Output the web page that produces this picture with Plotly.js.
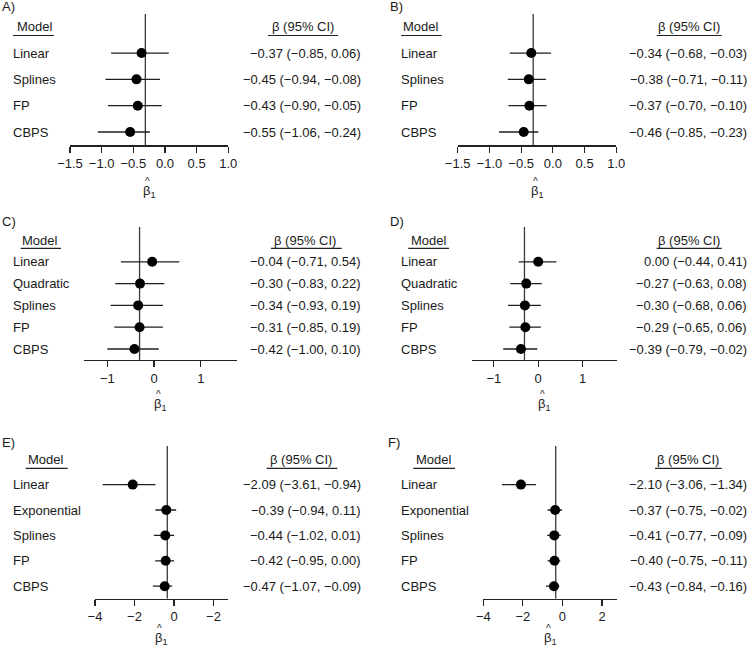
<!DOCTYPE html>
<html>
<head>
<meta charset="utf-8">
<script src="https://cdn.plot.ly/plotly-3.0.1.min.js"></script>
<style>html,body{margin:0;padding:0;background:#fff;}#chart{width:750px;height:653px;}</style>
</head>
<body>
<div id="chart"></div>
<script>
// ---------- DATA ----------
const modelsA = ["Linear", "Splines", "FP", "CBPS"];
const estA = [-0.37, -0.45, -0.43, -0.55];
const lowA = [-0.85, -0.94, -0.90, -1.06];
const highA = [0.06, -0.08, -0.05, -0.24];
const refA = -0.31;

const modelsB = ["Linear", "Splines", "FP", "CBPS"];
const estB = [-0.34, -0.38, -0.37, -0.46];
const lowB = [-0.68, -0.71, -0.70, -0.85];
const highB = [-0.03, -0.11, -0.10, -0.23];
const refB = -0.31;

const modelsC = ["Linear", "Quadratic", "Splines", "FP", "CBPS"];
const estC = [-0.04, -0.30, -0.34, -0.31, -0.42];
const lowC = [-0.71, -0.83, -0.93, -0.85, -1.00];
const highC = [0.54, 0.22, 0.19, 0.19, 0.10];
const refC = -0.31;

const modelsD = ["Linear", "Quadratic", "Splines", "FP", "CBPS"];
const estD = [0.00, -0.27, -0.30, -0.29, -0.39];
const lowD = [-0.44, -0.63, -0.68, -0.65, -0.79];
const highD = [0.41, 0.08, 0.06, 0.06, -0.02];
const refD = -0.31;

const modelsE = ["Linear", "Exponential", "Splines", "FP", "CBPS"];
const estE = [-2.09, -0.39, -0.44, -0.42, -0.47];
const lowE = [-3.61, -0.94, -1.02, -0.95, -1.07];
const highE = [-0.94, 0.11, 0.01, 0.00, -0.09];
const refE = -0.34;

const modelsF = ["Linear", "Exponential", "Splines", "FP", "CBPS"];
const estF = [-2.10, -0.37, -0.41, -0.40, -0.43];
const lowF = [-3.06, -0.75, -0.77, -0.75, -0.84];
const highF = [-1.34, -0.02, -0.09, -0.11, -0.16];
const refF = -0.34;

const tickValsAB = [-1.5, -1.0, -0.5, 0.0, 0.5, 1.0];
const tickTextAB = ["−1.5", "−1.0", "−0.5", "0.0", "0.5", "1.0"];
const tickValsCD = [-1, 0, 1];
const tickTextCD = ["−1", "0", "1"];
const tickValsE = [-4, -2, 0, 2];
const tickTextE = ["−4", "−2", "0", "−2"];
const tickValsF = [-4, -2, 0, 2];
const tickTextF = ["−4", "−2", "0", "2"];

const panelLabels = ["A)", "B)", "C)", "D)", "E)", "F)"];

// ---------- LAYOUT GEOMETRY (pixels) ----------
const W = 750, H = 653;
const px = v => v / W;
const py = v => 1 - v / H;
const FONT = "Liberation Sans, Arial, sans-serif";
const TXT = "#1a1a1a";

const panels = [
  {models: modelsA, est: estA, low: lowA, high: highA, ref: refA, tv: tickValsAB, tt: tickTextAB,
   xl: 70, xr: 228.3, xr0: -1.5, xr1: 1.0, top: 14, axisY: 145.3, r0: 26.7, dr: 26.33,
   labX: 11, valR: 363, modelC: 34.5, modelU: [13, 54], betaC: 303, betaU: [268, 338], uY: 35.5,
   hatY: 190, pl: [0, 6]},
  {models: modelsB, est: estB, low: lowB, high: highB, ref: refB, tv: tickValsAB, tt: tickTextAB,
   xl: 457.7, xr: 616.3, xr0: -1.5, xr1: 1.0, top: 14, axisY: 145.3, r0: 26.7, dr: 26.33,
   labX: 398.7, valR: 749.3, modelC: 421.3, modelU: [401, 441.7], betaC: 689, betaU: [656.7, 721.7], uY: 35.5,
   hatY: 190, pl: [388, 6]},
  {models: modelsC, est: estC, low: lowC, high: highC, ref: refC, tv: tickValsCD, tt: tickTextCD,
   xl: 84, xr: 236.7, xr0: -1.5, xr1: 1.77, top: 227, axisY: 360, r0: 240, dr: 21.8,
   labX: 11, valR: 363, modelC: 40.2, modelU: [20.7, 61], betaC: 305, betaU: [271, 341.7], uY: 248.3,
   hatY: 404, pl: [0, 221]},
  {models: modelsD, est: estD, low: lowD, high: highD, ref: refD, tv: tickValsCD, tt: tickTextCD,
   xl: 471.7, xr: 616.7, xr0: -1.5, xr1: 1.77, top: 227, axisY: 360, r0: 240, dr: 21.8,
   labX: 398.7, valR: 749.3, modelC: 428.7, modelU: [408.3, 449], betaC: 689, betaU: [656.7, 721.7], uY: 248.3,
   hatY: 404, pl: [388, 221]},
  {models: modelsE, est: estE, low: lowE, high: highE, ref: refE, tv: tickValsE, tt: tickTextE,
   xl: 95, xr: 228.3, xr0: -4, xr1: 2.75, top: 446, axisY: 598.5, r0: 459.2, dr: 25.4,
   labX: 11, valR: 363, modelC: 46.3, modelU: [25.7, 67.7], betaC: 301.3, betaU: [266.7, 337.3], uY: 468.3,
   hatY: 637.5, pl: [0, 442]},
  {models: modelsF, est: estF, low: lowF, high: highF, ref: refF, tv: tickValsF, tt: tickTextF,
   xl: 483.3, xr: 616.7, xr0: -4, xr1: 2.74, top: 446, axisY: 598.5, r0: 459.2, dr: 25.4,
   labX: 398.7, valR: 749.3, modelC: 433.8, modelU: [413.3, 455], betaC: 688.3, betaU: [655, 721.7], uY: 468.3,
   hatY: 637.5, pl: [386, 442]}
];

const fmt = v => {
  const s = Math.abs(v).toFixed(2);
  return (v < 0 && s !== "0.00" ? "−" : "") + s;
};

const traces = [];
const annotations = [];
const shapes = [];
const layout = {
  width: W, height: H,
  margin: {l: 0, r: 0, t: 0, b: 0},
  paper_bgcolor: "#fff", plot_bgcolor: "rgba(0,0,0,0)",
  showlegend: false,
  font: {family: FONT, size: 13, color: TXT},
  annotations: annotations,
  shapes: shapes
};

panels.forEach((p, i) => {
  const n = i + 1;
  const xa = "x" + n, ya = "y" + n;
  const xk = "xaxis" + n, yk = "yaxis" + n;
  const rows = p.models.map((_, k) => k + 1);
  const yTop = (p.top - p.r0) / p.dr;
  const yBot = (p.axisY - p.r0) / p.dr;

  layout[xk] = {
    domain: [px(p.xl), px(p.xr)], range: [p.xr0, p.xr1], anchor: ya,
    showline: true, linecolor: "#222", linewidth: 1.2,
    ticks: "outside", ticklen: 6, tickwidth: 1.2, tickcolor: "#222",
    tickvals: p.tv, ticktext: p.tt, tickfont: {family: FONT, size: 13, color: TXT},
    showgrid: false, zeroline: false, fixedrange: true
  };
  layout[yk] = {
    domain: [py(p.axisY), py(p.top)], range: [yBot, yTop], anchor: xa,
    visible: false, showgrid: false, zeroline: false, fixedrange: true
  };

  // reference vertical line
  shapes.push({type: "line", xref: xa, yref: ya + " domain", x0: p.ref, x1: p.ref, y0: 0, y1: 1,
    line: {color: "#3a3a3a", width: 1.3}, layer: "below"});

  traces.push({
    type: "scatter", mode: "markers", xaxis: xa, yaxis: ya,
    x: p.est, y: rows,
    marker: {size: 10, color: "#000", symbol: "circle"},
    error_x: {type: "data", symmetric: false,
      array: p.high.map((h, k) => h - p.est[k]),
      arrayminus: p.est.map((e, k) => e - p.low[k]),
      width: 0, thickness: 1.3, color: "#1e1e1e"},
    hoverinfo: "skip"
  });

  // row labels and value text
  p.models.forEach((m, k) => {
    annotations.push({xref: "paper", yref: ya, x: px(p.labX), y: k + 1, text: m,
      xanchor: "left", yanchor: "middle", showarrow: false, font: {size: 13, color: TXT}});
    annotations.push({xref: "paper", yref: ya, x: px(p.valR), y: k + 1,
      text: fmt(p.est[k]) + " (" + fmt(p.low[k]) + ", " + fmt(p.high[k]) + ")",
      xanchor: "right", yanchor: "middle", showarrow: false, font: {size: 13, color: TXT}});
  });

  // headers
  annotations.push({xref: "paper", yref: ya, x: px(p.modelC), y: 0, text: "Model",
    xanchor: "center", yanchor: "middle", showarrow: false, font: {size: 13, color: TXT}});
  annotations.push({xref: "paper", yref: ya, x: px(p.betaC), y: 0, text: "β (95% CI)",
    xanchor: "center", yanchor: "middle", showarrow: false, font: {size: 13, color: TXT}});
  shapes.push({type: "line", xref: "paper", yref: "paper", x0: px(p.modelU[0]), x1: px(p.modelU[1]),
    y0: py(p.uY), y1: py(p.uY), line: {color: "#222", width: 1.2}});
  shapes.push({type: "line", xref: "paper", yref: "paper", x0: px(p.betaU[0]), x1: px(p.betaU[1]),
    y0: py(p.uY), y1: py(p.uY), line: {color: "#222", width: 1.2}});

  // axis title beta-hat_1: caret line above beta with subscript, one text block
  annotations.push({xref: xa + " domain", yref: "paper", x: 0.5, y: py(p.hatY - 4),
    text: "<span style='font-size:10px'>^</span><span style='font-size:13px'>\u00a0</span><br>" +
          "<span style='font-size:13px'>β<sub>1</sub></span>",
    xanchor: "center", yanchor: "middle", showarrow: false, borderpad: 0,
    font: {size: 8, color: TXT}});

  // panel label
  annotations.push({xref: "paper", yref: "paper", x: px(p.pl[0]), y: py(p.pl[1]), text: panelLabels[i],
    xanchor: "left", yanchor: "middle", showarrow: false, font: {size: 13, color: TXT}});
});

Plotly.newPlot("chart", traces, layout, {displayModeBar: false, staticPlot: true});
</script>
</body>
</html>
